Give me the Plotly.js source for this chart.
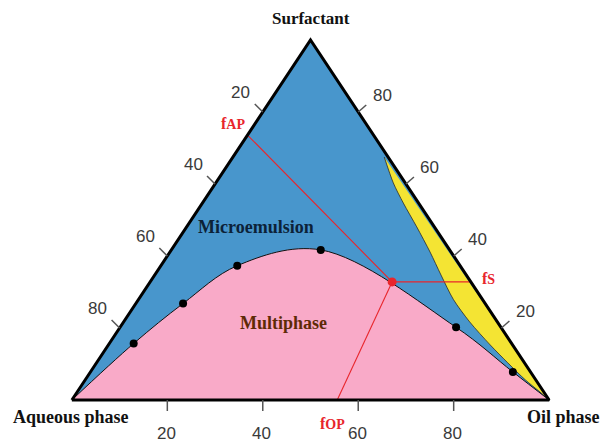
<!DOCTYPE html>
<html>
<head>
<meta charset="utf-8">
<script src="https://cdn.plot.ly/plotly-3.0.1.min.js"></script>
<style>
  html, body { margin: 0; padding: 0; background: #ffffff; }
  #chart { width: 602px; height: 443px; }
</style>
</head>
<body>
<div id="chart"></div>
<script>
// Every composition is a percentage triple: aqueous phase, oil phase, surfactant.
const axisTicks = [20, 40, 60, 80];

// Measured points on the phase boundary (black dots)
const binodalAqueous = [79.2, 63.3, 46.7, 27.0, 9.4, 3.7];
const binodalOil     = [5.1, 9.9, 16.0, 31.3, 70.4, 88.5];
const binodalSurf    = [15.7, 26.8, 37.3, 41.7, 20.2, 7.8];

// Inner edge of the narrow oil-rich region along the oil–surfactant side
const sliverAqueous = [0.8, 2.5, 3.2, 3.7, 4.4, 5.3, 6.1, 5.8, 4.7, 3.5, 2.2, 0.8, 0];
const sliverOil     = [31.7, 37.2, 42.1, 48.2, 54.5, 60.0, 66.0, 72.5, 80.0, 86.2, 92.2, 97.0, 100];
const sliverSurf    = [67.5, 60.3, 54.7, 48.1, 41.1, 34.7, 27.9, 21.7, 15.3, 10.3, 5.6, 2.2, 0];

// Selected formulation and its projections onto the three sides
const pointComp = [16.5, 50.7, 32.8];
const fAPComp   = [26.4, 0, 73.6];
const fOPComp   = [44.4, 55.6, 0];
const fSComp    = [0, 67.2, 32.8];

// Region labels
const microComp = [37.4, 14.6, 48.0];
const multiComp = [44.9, 33.7, 21.4];

// Corner compositions
const cornerAqueous = [100, 0, 0];
const cornerOil     = [0, 100, 0];
const cornerSurf    = [0, 0, 100];

// Ternary -> plane: x runs along the aqueous–oil base, y is the surfactant share
function px(c) { return c[1] + c[2] / 2; }
function py(c) { return c[2]; }
function seriesX(aq, oil, surf) { return aq.map((_, i) => oil[i] + surf[i] / 2); }
function seriesY(aq, oil, surf) { return surf.slice(); }

const BLUE = '#4896cc';
const PINK = '#f9aac8';
const YELLOW = '#f4e433';
const RED = '#e8262c';
const SERIF = 'Liberation Serif, Times New Roman, serif';
const SANS = 'Liberation Sans, Arial, sans-serif';

const triX = [px(cornerAqueous), px(cornerOil), px(cornerSurf), px(cornerAqueous)];
const triY = [py(cornerAqueous), py(cornerOil), py(cornerSurf), py(cornerAqueous)];

const curveX = [px(cornerAqueous)].concat(seriesX(binodalAqueous, binodalOil, binodalSurf), [px(cornerOil)]);
const curveY = [py(cornerAqueous)].concat(seriesY(binodalAqueous, binodalOil, binodalSurf), [py(cornerOil)]);

const traces = [
  { // whole diagram: single-phase microemulsion background
    x: triX, y: triY, mode: 'lines', fill: 'toself', fillcolor: BLUE,
    line: { width: 0 }, hoverinfo: 'skip'
  },
  { // oil-rich sliver
    x: seriesX(sliverAqueous, sliverOil, sliverSurf),
    y: seriesY(sliverAqueous, sliverOil, sliverSurf),
    mode: 'lines', fill: 'toself', fillcolor: YELLOW,
    line: { color: '#2a2a2a', width: 0.8, shape: 'spline', smoothing: 0.8 }, hoverinfo: 'skip'
  },
  { // multiphase region under the boundary curve
    x: curveX, y: curveY, mode: 'lines', fill: 'tozeroy', fillcolor: PINK,
    line: { color: '#111111', width: 1, shape: 'spline' }, hoverinfo: 'skip'
  },
  { // measured boundary points
    x: seriesX(binodalAqueous, binodalOil, binodalSurf),
    y: seriesY(binodalAqueous, binodalOil, binodalSurf),
    mode: 'markers', marker: { color: '#000000', size: 8 }, hoverinfo: 'skip'
  },
  { // projection lines from the formulation point
    x: [px(fAPComp), px(pointComp), px(fSComp), null, px(pointComp), px(fOPComp)],
    y: [py(fAPComp), py(pointComp), py(fSComp), null, py(pointComp), py(fOPComp)],
    mode: 'lines', line: { color: RED, width: 1.1 }, hoverinfo: 'skip'
  },
  { // triangle outline
    x: triX, y: triY, mode: 'lines',
    line: { color: '#000000', width: 3 }, hoverinfo: 'skip'
  },
  { // formulation point
    x: [px(pointComp)], y: [py(pointComp)], mode: 'markers',
    marker: { color: RED, size: 9 }, hoverinfo: 'skip'
  }
];

const shapes = [];
const annotations = [];
const tickFont = { family: SANS, size: 17, color: '#3a3a3a' };
const tickLine = { color: '#555555', width: 1.5 };

axisTicks.forEach(v => {
  // oil axis (bottom)
  const b = [100 - v, v, 0];
  shapes.push({ type: 'line', xref: 'x', yref: 'y', xsizemode: 'pixel', ysizemode: 'pixel',
    xanchor: px(b), yanchor: py(b), x0: 0, x1: 0, y0: 0, y1: -11, line: tickLine });
  annotations.push({ x: px(b), y: py(b), xref: 'x', yref: 'y', text: String(v), showarrow: false,
    xshift: -1, yshift: -33, font: tickFont });
  // aqueous axis (left)
  const l = [v, 0, 100 - v];
  shapes.push({ type: 'line', xref: 'x', yref: 'y', xsizemode: 'pixel', ysizemode: 'pixel',
    xanchor: px(l), yanchor: py(l), x0: 0, x1: -8, y0: 0, y1: 8, line: tickLine });
  annotations.push({ x: px(l), y: py(l), xref: 'x', yref: 'y', text: String(v), showarrow: false,
    xshift: -22, yshift: 20, font: tickFont });
  // surfactant axis (right)
  const r = [0, 100 - v, v];
  shapes.push({ type: 'line', xref: 'x', yref: 'y', xsizemode: 'pixel', ysizemode: 'pixel',
    xanchor: px(r), yanchor: py(r), x0: 0, x1: 8, y0: 0, y1: 7, line: tickLine });
  annotations.push({ x: px(r), y: py(r), xref: 'x', yref: 'y', text: String(v), showarrow: false,
    xshift: 24, yshift: 17, font: tickFont });
});

const cornerFont = { family: SERIF, size: 18, color: '#111111' };
annotations.push(
  { x: px(cornerSurf), y: py(cornerSurf), xref: 'x', yref: 'y', text: '<b>Surfactant</b>',
    showarrow: false, yshift: 22, font: { family: SERIF, size: 17, color: '#111111' } },
  { x: px(cornerAqueous), y: py(cornerAqueous), xref: 'x', yref: 'y', text: '<b>Aqueous phase</b>',
    showarrow: false, xshift: -1, yshift: -17, font: cornerFont },
  { x: px(cornerOil), y: py(cornerOil), xref: 'x', yref: 'y', text: '<b>Oil phase</b>',
    showarrow: false, xshift: 14, yshift: -17, font: cornerFont },
  { x: px(microComp), y: py(microComp), xref: 'x', yref: 'y', text: '<b>Microemulsion</b>',
    showarrow: false, font: { family: SERIF, size: 18, color: '#0c2238' } },
  { x: px(multiComp), y: py(multiComp), xref: 'x', yref: 'y', text: '<b>Multiphase</b>',
    showarrow: false, font: { family: SERIF, size: 18, color: '#5e2a06' } },
  { x: px(fAPComp), y: py(fAPComp), xref: 'x', yref: 'y',
    text: '<b>f<span style="font-size:14px">AP</span></b>',
    showarrow: false, xshift: -15, yshift: 12, font: { family: SERIF, size: 16, color: RED } },
  { x: px(fSComp), y: py(fSComp), xref: 'x', yref: 'y',
    text: '<b>f<span style="font-size:14px">S</span></b>',
    showarrow: false, xshift: 18, yshift: 3, font: { family: SERIF, size: 16, color: RED } },
  { x: px(fOPComp), y: py(fOPComp), xref: 'x', yref: 'y',
    text: '<b>f<span style="font-size:14px">OP</span></b>',
    showarrow: false, xshift: -5, yshift: -23, font: { family: SERIF, size: 16, color: RED } }
);

const hiddenAxis = { visible: false, showgrid: false, zeroline: false, fixedrange: true };

const layout = {
  width: 602, height: 443,
  margin: { l: 48, r: 29, t: 22, b: 25 },
  paper_bgcolor: '#ffffff', plot_bgcolor: '#ffffff',
  showlegend: false,
  xaxis: Object.assign({ range: [-5, 105] }, hiddenAxis),
  yaxis: Object.assign({ range: [-5, 105] }, hiddenAxis),
  shapes: shapes,
  annotations: annotations
};

Plotly.newPlot('chart', traces, layout, { displayModeBar: false, staticPlot: true });
</script>
</body>
</html>
